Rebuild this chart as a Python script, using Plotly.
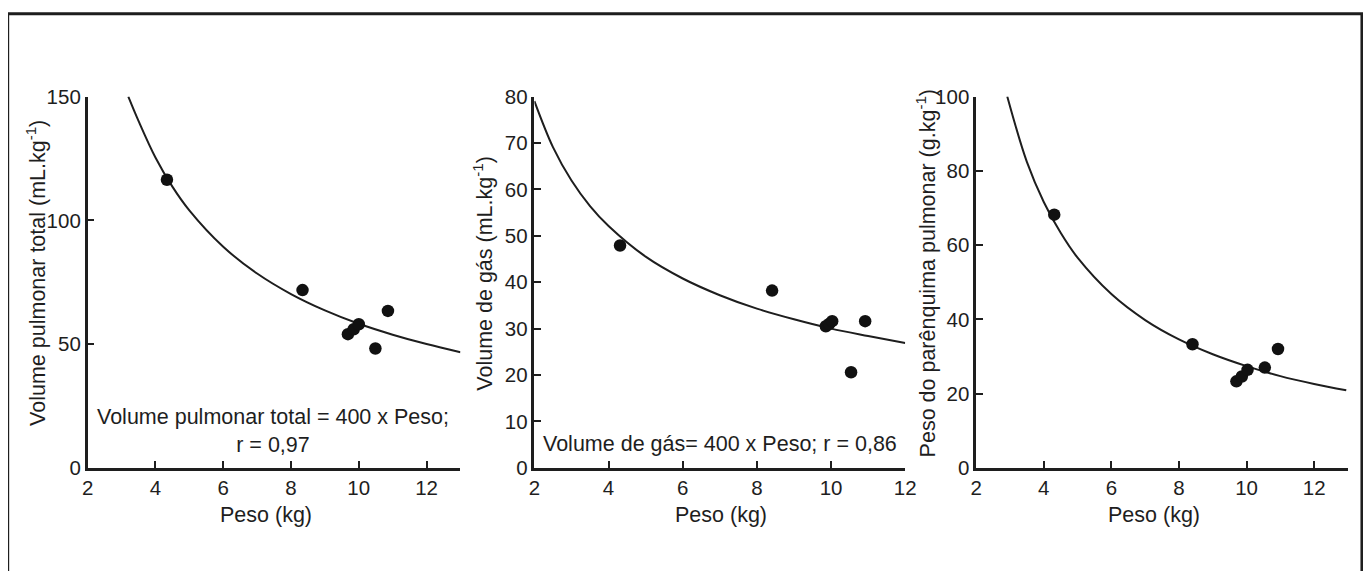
import plotly.graph_objects as go

# The page body keeps its default 8px margin, so the figure is made 16px
# smaller than the 1371x579 window.
WIN_W, WIN_H = 1371, 579
PAD = 8
W, H = WIN_W - 2 * PAD, WIN_H - 2 * PAD
# measured mapping of the photographed page: shot = OFF + SCALE * design
OFF_X, SCALE_X = 5.4, 0.988
OFF_Y, SCALE_Y = 10.6, 0.961

# ---- Data ----
# Panel 1: Volume pulmonar total
p1_peso = [4.34, 8.34, 9.68, 9.85, 10.0, 10.49, 10.86]
p1_vol = [116.4, 71.8, 54.0, 56.0, 58.0, 48.2, 63.4]
p1_curve_x = [3.2, 3.5, 4, 4.5, 5, 6, 7, 8, 9, 10, 11, 12, 13]
p1_curve_y = [150, 140.2, 125.4, 113.6, 104.0, 89.3, 78.5, 70.2, 63.6, 58.2, 53.8, 50.0, 46.7]

# Panel 2: Volume de gás
p2_peso = [4.31, 8.41, 9.86, 9.95, 10.03, 10.54, 10.92]
p2_gas = [47.9, 38.2, 30.5, 31.0, 31.6, 20.6, 31.6]
p2_curve_x = [2, 2.5, 3, 3.5, 4, 5, 6, 7, 8, 9, 10, 11, 12]
p2_curve_y = [79.0, 69.1, 61.9, 56.4, 52.1, 45.5, 40.8, 37.2, 34.3, 32.0, 30.0, 28.4, 26.9]

# Panel 3: Peso do parênquima pulmonar
p3_peso = [4.31, 8.40, 9.70, 9.86, 10.03, 10.54, 10.93]
p3_par = [68.2, 33.3, 23.3, 24.6, 26.4, 27.0, 32.0]
p3_curve_x = [2.92, 3.5, 4, 4.5, 5, 6, 7, 8, 9, 10, 11, 12, 12.95]
p3_curve_y = [100, 82.4, 71.6, 63.3, 56.6, 46.8, 39.8, 34.6, 30.6, 27.4, 24.7, 22.6, 20.9]

x_ticks = [2, 4, 6, 8, 10, 12]
y1_ticks = [0, 50, 100, 150]
y2_ticks = [0, 10, 20, 30, 40, 50, 60, 70, 80]
y3_ticks = [0, 20, 40, 60, 80, 100]

y_titles = ["Volume pulmonar total (mL.kg<sup>-1</sup>)",
            "Volume de gás (mL.kg<sup>-1</sup>)",
            "Peso do parênquima pulmonar (g.kg<sup>-1</sup>)"]
x_title = "Peso (kg)"
note1 = "Volume pulmonar total = 400 x Peso;<br>r = 0,97"
note2 = "Volume de gás= 400 x Peso; r = 0,86"

INK = "#1e1e1e"
FONT = "Liberation Sans, Arial, sans-serif"

fig = go.Figure()

panels = [
    (p1_peso, p1_vol, p1_curve_x, p1_curve_y, "x", "y"),
    (p2_peso, p2_gas, p2_curve_x, p2_curve_y, "x2", "y2"),
    (p3_peso, p3_par, p3_curve_x, p3_curve_y, "x3", "y3"),
]
for px_, py_, cx, cy, xa, ya in panels:
    fig.add_trace(go.Scatter(x=cx, y=cy, mode="lines", line=dict(color=INK, width=2, shape="spline"),
                             xaxis=xa, yaxis=ya, showlegend=False, hoverinfo="skip"))
    fig.add_trace(go.Scatter(x=px_, y=py_, mode="markers", marker=dict(color="#111111", size=12.5),
                             xaxis=xa, yaxis=ya, showlegend=False, cliponaxis=False))

def px2x(p):
    d = (p - OFF_X) / SCALE_X
    return (d - PAD) / W

def px2y(p):
    d = (p - OFF_Y) / SCALE_Y
    return (H - (d - PAD)) / H

def page2x(d):
    return (d - PAD) / W

def page2y(d):
    return (H - (d - PAD)) / H

ydom = [px2y(467), px2y(95)]

def xaxis(dom, rng, anchor):
    return dict(domain=dom, range=rng, anchor=anchor, tickvals=x_ticks, showline=True,
                linecolor=INK, linewidth=2.5, ticks="inside", ticklen=7, tickwidth=2,
                tickcolor=INK, showgrid=False, zeroline=False,
                tickfont=dict(family=FONT, size=20.5, color=INK))

def yaxis(rng, ticks, anchor):
    return dict(domain=ydom, range=rng, anchor=anchor, tickvals=ticks, showline=True,
                linecolor=INK, linewidth=2.5, ticks="inside", ticklen=7, tickwidth=2,
                tickcolor=INK, showgrid=False, zeroline=False,
                tickfont=dict(family=FONT, size=20.5, color=INK))

fig.update_layout(
    width=W, height=H,
    margin=dict(l=0, r=0, t=0, b=0),
    paper_bgcolor="white", plot_bgcolor="white",
    xaxis=xaxis([px2x(87), px2x(460)], [2, 13], "y"),
    yaxis=yaxis([0, 150], y1_ticks, "x"),
    xaxis2=xaxis([px2x(534), px2x(905)], [2, 12], "y2"),
    yaxis2=yaxis([0, 80], y2_ticks, "x2"),
    xaxis3=xaxis([px2x(976), px2x(1348)], [2, 13], "y3"),
    yaxis3=yaxis([0, 100], y3_ticks, "x3"),
)

def note(x, y, text, size, angle=0):
    return dict(x=px2x(x), y=px2y(y), xref="paper", yref="paper", text=text,
                textangle=angle, xanchor="center", yanchor="middle", showarrow=False,
                font=dict(family=FONT, size=size, color=INK))

ann = []
for xc in [265, 721, 1154]:
    ann.append(note(xc, 514, x_title, 21.5))
for xc, t in zip([36, 483, 926], y_titles):
    ann.append(note(xc, 272, t, 21.5, -90))
ann.append(note(272, 430, note1, 21.5))
ann.append(note(720, 443, note2, 21.5))
fig.update_layout(annotations=ann)

# outer frame: left/top edges kept just inside the page so they are not clipped
fig.add_shape(type="rect", xref="paper", yref="paper",
              x0=page2x(1.6), x1=px2x(1362), y0=px2y(600), y1=page2y(1.6),
              line=dict(color=INK, width=3), fillcolor="rgba(0,0,0,0)", layer="below")

fig.write_html("out.html")
